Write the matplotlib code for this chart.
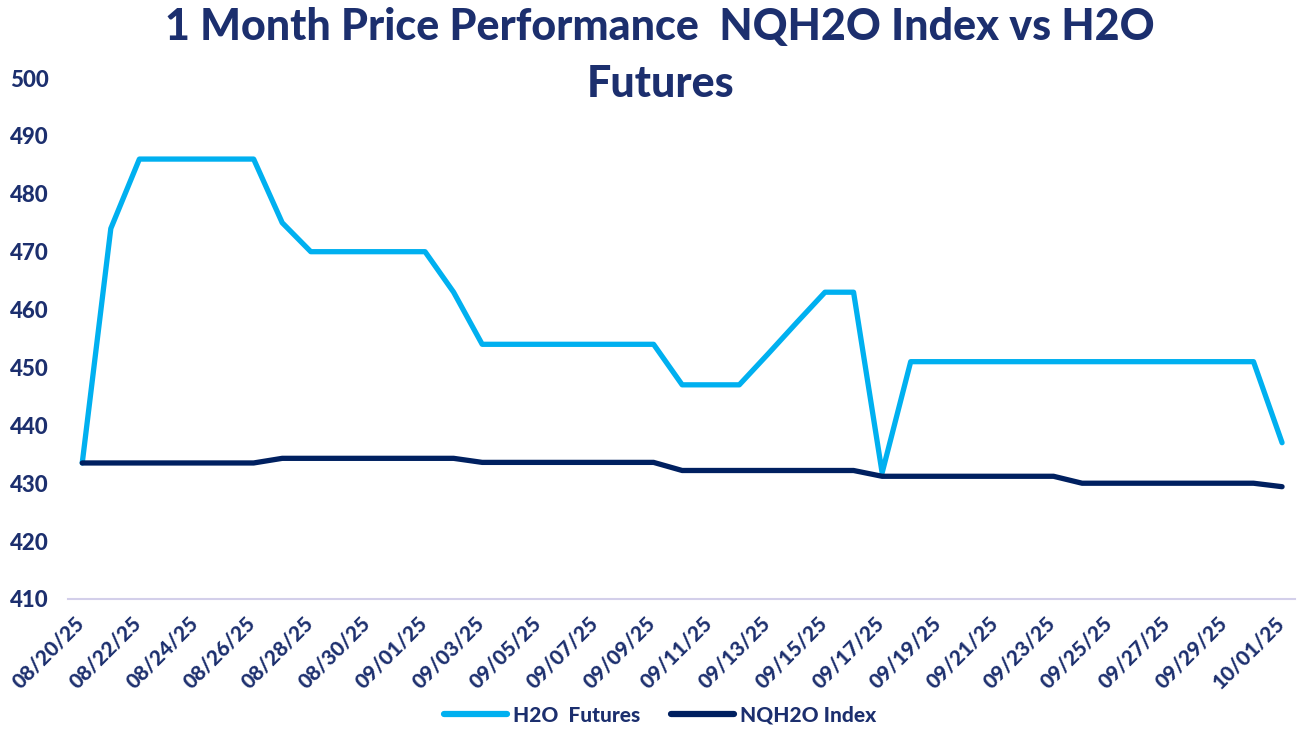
import pandas as pd
import numpy as np
import matplotlib
matplotlib.use('Agg')
import matplotlib.pyplot as plt
import matplotlib.transforms as mtransforms

# Daglige datoer 08/20/25 - 10/01/25
dates = pd.date_range('2025-08-20', '2025-10-01', freq='D')

h2o_futures = [433.5, 474, 486, 486, 486, 486, 486, 475, 470, 470,
               470, 470, 470, 463, 454, 454, 454, 454, 454, 454,
               454, 447, 447, 447, 452.3, 457.7, 463, 463, 431.8, 451,
               451, 451, 451, 451, 451, 451, 451, 451, 451, 451,
               451, 451, 437]

nqh2o_index = [433.5, 433.5, 433.5, 433.5, 433.5, 433.5, 433.5, 434.3, 434.3, 434.3,
               434.3, 434.3, 434.3, 434.3, 433.6, 433.6, 433.6, 433.6, 433.6, 433.6,
               433.6, 432.2, 432.2, 432.2, 432.2, 432.2, 432.2, 432.2, 431.2, 431.2,
               431.2, 431.2, 431.2, 431.2, 431.2, 430.0, 430.0, 430.0, 430.0, 430.0,
               430.0, 430.0, 429.4]

y_ticks = [410, 420, 430, 440, 450, 460, 470, 480, 490, 500]

text_col = '#1c2f6e'
W = 900  # tung skrift
plt.rcParams['font.family'] = ['Lato', 'DejaVu Sans']

fig = plt.figure(figsize=(12.97, 7.32), dpi=100)
ax = fig.add_axes([0.0524, 0.1817, 0.946, 0.7117])

x = np.arange(len(dates))
ax.plot(x, h2o_futures, color='#00B0F0', lw=3.8, label='H2O  Futures', solid_capstyle='round')
ax.plot(x, nqh2o_index, color='#002060', lw=3.8, label='NQH2O Index', solid_capstyle='round')

ax.set_xlim(-0.5, 42.45)
ax.set_ylim(410, 500)
ax.set_yticks(y_ticks)
ax.set_yticklabels([str(v) for v in y_ticks], fontsize=16, fontweight=W, color=text_col)
ax.set_xticks(x[::2])
ax.set_xticklabels([d.strftime('%m/%d/%y') for d in dates[::2]], rotation=45,
                   ha='right', rotation_mode='anchor', fontsize=15, fontweight=W, color=text_col)
ax.tick_params(axis='y', length=0, pad=14)
ax.tick_params(axis='x', length=0, pad=10)

# flytter x-labels lidt til venstre
offset = mtransforms.ScaledTranslation(-8 / 100, 0, fig.dpi_scale_trans)
for lbl in ax.get_xticklabels():
    lbl.set_transform(lbl.get_transform() + offset)

for s in ['top', 'right', 'left']:
    ax.spines[s].set_visible(False)
ax.spines['bottom'].set_color('#d3cfea')
ax.spines['bottom'].set_linewidth(1.5)

fig.text(0.509, 0.99, '1 Month Price Performance  NQH2O Index vs H2O\nFutures',
         ha='center', va='top', fontsize=31, fontweight=W, color=text_col,
         linespacing=1.5)

leg = fig.legend(loc='center', bbox_to_anchor=(0.509, 0.023), ncol=2, frameon=False,
                 fontsize=15, handlelength=3.0, columnspacing=1.5, handletextpad=0.3)
for t in leg.get_texts():
    t.set_color(text_col)
    t.set_fontweight(W)
for h in leg.legend_handles:
    h.set_linewidth(4.5)

fig.savefig('out.png', dpi=100)
